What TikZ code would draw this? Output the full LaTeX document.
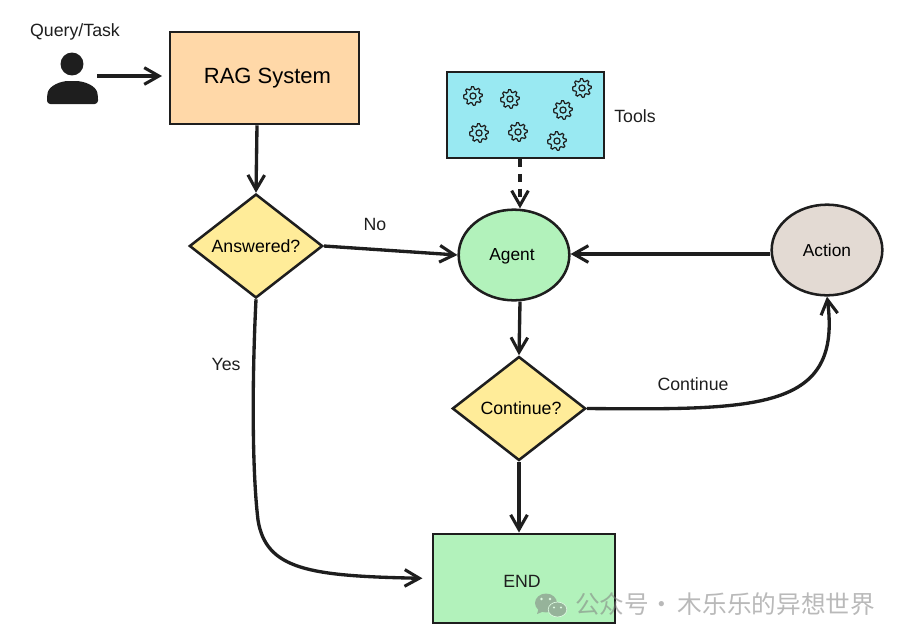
\documentclass[tikz,border=0pt]{standalone}
\usepackage{fontspec}
\setmainfont{Liberation Sans}
\newfontfamily\cjkfont{Noto Sans CJK SC}
\usetikzlibrary{arrows.meta,shapes.geometric}
\definecolor{inkline}{HTML}{1E1E1E}
\definecolor{ragfill}{HTML}{FFD8A8}
\definecolor{toolfill}{HTML}{99E9F2}
\definecolor{agentfill}{HTML}{B2F2BB}
\definecolor{actionfill}{HTML}{E3DAD3}
\definecolor{askfill}{HTML}{FFEC99}
\tikzset{
  boxnode/.style={draw=inkline, line width=1.9pt, inner sep=0pt},
  asknode/.style={boxnode, diamond, aspect=1.28, fill=askfill, minimum width=100pt, minimum height=78pt, font=\fontsize{13.3}{15}\selectfont},
  roundnode/.style={boxnode, ellipse, minimum width=83pt, minimum height=68pt, font=\fontsize{13}{15}\selectfont},
  caption/.style={text=inkline, font=\fontsize{13.3}{15}\selectfont},
  link/.style={draw=inkline, line width=2.5pt, -{Straight Barb[length=11pt,width=12.5pt,line width=2.3pt]}},
  gearicon/.pic={
    \draw[inkline, line width=.9pt, fill=none]
      plot[smooth cycle, samples=33, domain=0:348.75, variable=\a]
      ({\a}:{mod(round(\a/11.25),4)<2 ? 7pt : 5.2pt});
    \draw[inkline, line width=.9pt] (0,0) circle (2.3pt);
  }
}
\begin{document}
\begin{tikzpicture}[x=.75pt, y=-.75pt]
  \useasboundingbox (0,0) rectangle (902,640);

  % left column
  \node[caption] (query) at (75,32) {Query/Task};
  \fill[inkline] (72,64) circle (8.6pt);
  \fill[inkline, rounded corners=2.5pt] (47,104) -- (47,96) .. controls (49,86) and (60,81) .. (72,81)
    .. controls (85,81) and (96,86) .. (98,96) -- (98,104) -- cycle;
  \coordinate (user) at (97,76);
  \coordinate (raggap) at (162,76);
  \node[boxnode, fill=ragfill, minimum width=141.75pt, minimum height=69pt,
    font=\fontsize{16.5}{20}\selectfont] (rag) at (264.5,78) {\hspace*{4.5pt}RAG System};
  \node[asknode] (answered) at (256,246) {Answered?};

  % tools box and agent loop
  \node[boxnode, fill=toolfill, minimum width=117.75pt, minimum height=64.5pt] (tools) at (525.5,115) {};
  \node[caption] (toolstext) at (635,116) {Tools};
  \foreach \gx/\gy in {473/96, 510/99, 582/88, 563/110, 479/133, 518/132, 557/141}
    \pic at (\gx,\gy) {gearicon};
  \node[roundnode, fill=agentfill, text depth=0pt] (agent) at (514,255) {\hspace*{-3pt}Agent};
  \node[roundnode, fill=actionfill] (action) at (827,250) {Action};
  \node[asknode] (continue) at (519,408.5) {\hspace*{3pt}Continue?};
  \node[boxnode, fill=agentfill, minimum width=136.5pt, minimum height=67pt] (end) at (524,578.5) {};
  \node[caption] (endtext) at (522,581) {END};

  % labels
  \node[caption] (notext) at (375,224) {No};
  \node[caption] (yestext) at (226,364) {Yes};
  \node[caption] (conttext) at (693,384) {Continue};

  % connectors
  \draw[link] (user) -- (raggap);
  \draw[link] (rag.south -| 257,0) -- (answered.north);
  \draw[link] (answered.east) -- (agent.west);
  \draw[link, shorten >=7pt] (answered.south) .. controls (252,380) and (252,470) .. (258,520)
    .. controls (266,570) and (310,576) .. (end.west);
  \draw[link, dash pattern=on 6pt off 5pt] (tools.south -| 520,0) -- (agent.north -| 520,0);
  \draw[link] (action.west |- 0,254) -- (agent.east |- 0,254);
  \draw[link] (agent.south -| 520,0) -- (continue.north);
  \draw[link] (continue.east) .. controls (760,410) and (842,410) .. (action.south);
  \draw[link] (continue.south) -- (end.north -| continue.south);

  % watermark
  \begin{scope}[transparency group, opacity=.55]
    \fill[gray] (546,603) ellipse (8.25pt and 7.1pt);
    \fill[gray] (537,614) -- (540,604) -- (547,610) -- cycle;
    \fill[gray, draw=white, line width=.5pt] (557.5,609.5) ellipse (7pt and 5.6pt);
    \fill[white] (541.5,599) circle (1.1pt) (550,599) circle (1.1pt) (554,607.5) circle (.9pt) (561,607.5) circle (.9pt);
    \node[text=gray, font=\cjkfont\fontsize{18.5}{20}\selectfont, anchor=west, inner sep=0pt] (mark) at (575,604) {公众号·\hspace{3pt}木乐乐的异想世界};
  \end{scope}
\end{tikzpicture}
\end{document}
